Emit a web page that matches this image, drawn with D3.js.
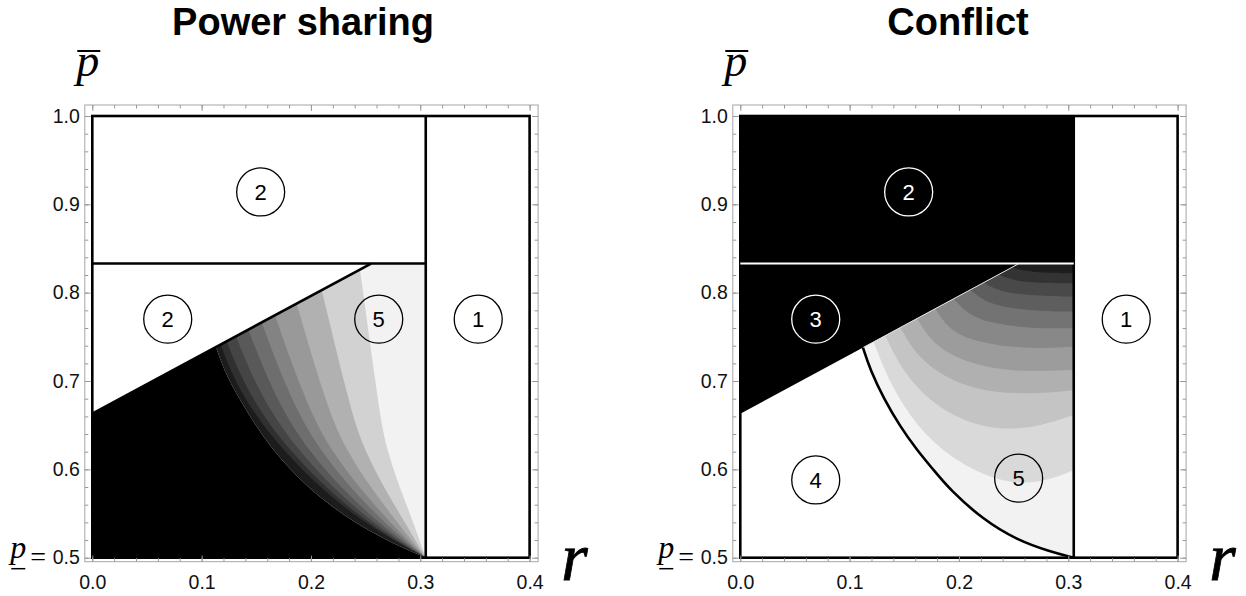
<!DOCTYPE html>
<html>
<head>
<meta charset="utf-8">
<script src="https://cdn.jsdelivr.net/npm/d3@7"></script>
<style>
  body { margin: 0; background: #fff; }
  svg { display: block; font-family: "Liberation Sans", Arial, sans-serif; }
</style>
</head>
<body>
<svg id="chart" width="1246" height="596"></svg>
<script>
// ---- data (r on x axis, p on y axis) ----
const xTicks = [0, 0.1, 0.2, 0.3, 0.4];
const yTicks = [0.5, 0.6, 0.7, 0.8, 0.9, 1.0];

const rSplit = 0.305;          // vertical boundary
const pSplit = 0.833;          // horizontal boundary
const diagStart = [0, 0.663];  // lower end of the slanted boundary
const diagEnd = [0.255, 0.833];

// Power sharing: edge of the black region 4
const psBlackEdge = [[0.1131, 0.7384], [0.1223, 0.7068], [0.1351, 0.6785], [0.1552, 0.6378],
  [0.1808, 0.5993], [0.2082, 0.5676], [0.2402, 0.5393], [0.2722, 0.5178], [0.305, 0.5]];
// Power sharing: contour lines, left (dark) to right (light)
const psContours = [
  [[0.1174, 0.7413], [0.133, 0.69], [0.1717, 0.622], [0.2371, 0.546], [0.305, 0.5]],
  [[0.1229, 0.7450], [0.1405, 0.69], [0.1777, 0.622], [0.2416, 0.546], [0.305, 0.5]],
  [[0.1314, 0.7506], [0.151, 0.69], [0.1857, 0.622], [0.2472, 0.546], [0.305, 0.5]],
  [[0.1427, 0.7582], [0.164, 0.69], [0.1947, 0.622], [0.2533, 0.546], [0.305, 0.5]],
  [[0.1549, 0.7663], [0.178, 0.69], [0.2057, 0.622], [0.2600, 0.546], [0.305, 0.5]],
  [[0.1671, 0.7745], [0.191, 0.69], [0.2157, 0.622], [0.2667, 0.546], [0.305, 0.5]],
  [[0.1869, 0.7877], [0.210, 0.69], [0.2297, 0.622], [0.2746, 0.546], [0.305, 0.5]],
  [[0.2098, 0.8029], [0.232, 0.69], [0.2467, 0.622], [0.2829, 0.546], [0.305, 0.5]],
  [[0.2448, 0.8263], [0.260, 0.69], [0.2677, 0.622], [0.2920, 0.546], [0.305, 0.5]]
];
const psFills = ['#1c1c1c', '#303030', '#454545', '#595959', '#6e6e6e', '#838383',
  '#999999', '#b1b1b1', '#d2d2d2', '#f2f2f2'];

// Conflict: boundary of region 5 (thick black curve)
const cfEdge = [[0.1122, 0.7378], [0.1189, 0.7125], [0.1311, 0.6804], [0.1463, 0.6483],
  [0.1616, 0.6219], [0.1768, 0.5993], [0.1920, 0.5766], [0.2225, 0.5427],
  [0.2530, 0.5200], [0.2835, 0.5068], [0.305, 0.5]];
// Conflict: contour lines, bottom (light) to top (dark)
const cfContours = [
  [[0.1219, 0.7443], [0.1372, 0.6954], [0.1616, 0.6481], [0.1920, 0.6131], [0.2286, 0.5897], [0.2591, 0.5830], [0.2835, 0.5885], [0.305, 0.5992]],
  [[0.1326, 0.7514], [0.1494, 0.7087], [0.1738, 0.6767], [0.2042, 0.6540], [0.2378, 0.6446], [0.2713, 0.6476], [0.305, 0.6615]],
  [[0.1463, 0.7606], [0.1616, 0.7276], [0.1859, 0.7049], [0.2164, 0.6898], [0.2530, 0.6853], [0.2835, 0.6868], [0.305, 0.6898]],
  [[0.1616, 0.7708], [0.1768, 0.7408], [0.2012, 0.7238], [0.2317, 0.7136], [0.2652, 0.7106], [0.305, 0.7125]],
  [[0.1783, 0.7819], [0.1920, 0.7559], [0.2164, 0.7445], [0.2469, 0.7381], [0.2774, 0.7370], [0.305, 0.7389]],
  [[0.1951, 0.7931], [0.2103, 0.7728], [0.2347, 0.7645], [0.2652, 0.7596], [0.305, 0.7596]],
  [[0.2103, 0.8033], [0.2256, 0.7879], [0.2500, 0.7819], [0.2774, 0.7789], [0.305, 0.7785]],
  [[0.2225, 0.8114], [0.2378, 0.8011], [0.2622, 0.7970], [0.305, 0.7955]],
  [[0.2362, 0.8205], [0.2500, 0.8136], [0.2743, 0.8110], [0.305, 0.8106]],
  [[0.2484, 0.8287], [0.2622, 0.8242], [0.2835, 0.8223], [0.305, 0.8219]]
];
const cfFills = ['#f2f2f2', '#d9d9d9', '#c4c4c4', '#b0b0b0', '#9c9c9c', '#888888',
  '#737373', '#5e5e5e', '#494949', '#333333', '#1e1e1e'];

const psLabels = [
  { n: '2', r: 0.154, p: 0.914 }, { n: '2', r: 0.069, p: 0.770 },
  { n: '5', r: 0.262, p: 0.770 }, { n: '1', r: 0.353, p: 0.770 },
  { n: '4', r: 0.069, p: 0.588 }
];
const cfLabels = [
  { n: '2', r: 0.154, p: 0.914, light: true }, { n: '3', r: 0.069, p: 0.770, light: true },
  { n: '1', r: 0.353, p: 0.770 }, { n: '4', r: 0.069, p: 0.588 },
  { n: '5', r: 0.2546, p: 0.590 }
];

const panels = [
  { title: 'Power sharing', titleX: 303, x0: 92.3, kind: 'ps', labels: psLabels },
  { title: 'Conflict', titleX: 958, x0: 740.3, kind: 'cf', labels: cfLabels }
];

const svg = d3.select('#chart');

panels.forEach(cfg => {
  const g = svg.append('g');
  const x = d3.scaleLinear().domain([0, 0.4]).range([cfg.x0, cfg.x0 + 437.3]);
  const y = d3.scaleLinear().domain([0.5, 1]).range([557.7, 116]);
  const curve = d3.line().x(d => x(d[0])).y(d => y(d[1])).curve(d3.curveBasis);
  const poly = d3.line().x(d => x(d[0])).y(d => y(d[1]));
  // closes a region along the right edge, the top split and the diagonal
  const tail = `L${x(rSplit)},${y(pSplit)}L${x(diagEnd[0])},${y(diagEnd[1])}Z`;

  if (cfg.kind === 'ps') {
    [psBlackEdge, ...psContours].forEach((c, i) => {
      g.append('path').attr('d', curve(c) + tail).attr('fill', psFills[i]);
    });
    // black region 4
    g.append('path')
      .attr('d', `M${x(0)},${y(0.5)}L${x(diagStart[0])},${y(diagStart[1])}` +
        curve(psBlackEdge).replace(/^M/, 'L') + 'Z')
      .attr('fill', '#000');
  } else {
    g.append('path').attr('d', curve(cfEdge) + tail).attr('fill', cfFills[0]);
    cfContours.forEach((c, i) => {
      g.append('path').attr('d', curve(c) + tail).attr('fill', cfFills[i + 1]);
    });
    // black regions 2 and 3
    g.append('path')
      .attr('d', poly([diagStart, [0, 1], [rSplit, 1], [rSplit, pSplit], diagEnd]) + 'Z')
      .attr('fill', '#000');
  }

  // boundaries
  const lw = 2.6;
  g.append('rect')
    .attr('x', x(0)).attr('y', y(1))
    .attr('width', x(0.4) - x(0)).attr('height', y(0.5) - y(1))
    .attr('fill', 'none').attr('stroke', '#000').attr('stroke-width', lw);
  g.append('path').attr('d', poly([[rSplit, 0.5], [rSplit, 1]]))
    .attr('stroke', '#000').attr('stroke-width', lw);
  if (cfg.kind === 'ps') {
    g.append('path').attr('d', poly([[0, pSplit], [rSplit, pSplit]]))
      .attr('stroke', '#000').attr('stroke-width', lw);
    g.append('path').attr('d', poly([diagStart, diagEnd]))
      .attr('stroke', '#000').attr('stroke-width', lw);
  } else {
    g.append('path').attr('d', poly([[0, pSplit], [rSplit, pSplit]]))
      .attr('stroke', '#fff').attr('stroke-width', 2);
    g.append('path').attr('d', poly([[cfEdge[0][0], cfEdge[0][1]], diagEnd]))
      .attr('stroke', '#e6e6e6').attr('stroke-width', 1);
    g.append('path').attr('d', curve(cfEdge))
      .attr('fill', 'none').attr('stroke', '#000').attr('stroke-width', lw);
  }

  // region labels
  const lab = g.selectAll('.lab').data(cfg.labels).enter().append('g')
    .attr('transform', d => `translate(${x(d.r)},${y(d.p)})`);
  lab.append('circle').attr('r', 24).attr('fill', 'none')
    .attr('stroke', d => d.light ? '#fff' : '#000').attr('stroke-width', 1.3);
  lab.append('text').attr('text-anchor', 'middle').attr('dy', '0.36em')
    .attr('font-size', 22).attr('fill', d => d.light ? '#fff' : '#000')
    .text(d => d.n);

  // frame with inward ticks
  const fL = x(0) - 7.5, fR = x(0.4) + 8.5, fT = y(1) - 11, fB = y(0.5) + 4;
  g.append('rect').attr('x', fL).attr('y', fT).attr('width', fR - fL).attr('height', fB - fT)
    .attr('fill', 'none').attr('stroke', '#a6a6a6').attr('stroke-width', 1);
  const xMinor = d3.range(0, 0.4001, 0.02);
  const yMinor = d3.range(0.5, 1.0001, 0.02);
  const fmt = d3.format('.1f');
  const axes = [
    g.append('g').attr('transform', `translate(0,${fB})`)
      .call(d3.axisBottom(x).tickValues(xMinor).tickSize(-3.5).tickFormat('')),
    g.append('g').attr('transform', `translate(0,${fB})`)
      .call(d3.axisBottom(x).tickValues(xTicks).tickSize(-6).tickPadding(13).tickFormat(fmt)),
    g.append('g').attr('transform', `translate(0,${fT})`)
      .call(d3.axisTop(x).tickValues(xMinor).tickSize(-3.5).tickFormat('')),
    g.append('g').attr('transform', `translate(0,${fT})`)
      .call(d3.axisTop(x).tickValues(xTicks).tickSize(-6).tickFormat('')),
    g.append('g').attr('transform', `translate(${fL},0)`)
      .call(d3.axisLeft(y).tickValues(yMinor).tickSize(-3.5).tickFormat('')),
    g.append('g').attr('transform', `translate(${fL},0)`)
      .call(d3.axisLeft(y).tickValues(yTicks).tickSize(-6).tickPadding(5).tickFormat(fmt)),
    g.append('g').attr('transform', `translate(${fR},0)`)
      .call(d3.axisRight(y).tickValues(yMinor).tickSize(-3.5).tickFormat('')),
    g.append('g').attr('transform', `translate(${fR},0)`)
      .call(d3.axisRight(y).tickValues(yTicks).tickSize(-6).tickFormat(''))
  ];
  axes.forEach(a => {
    a.select('.domain').remove();
    a.selectAll('.tick line').attr('stroke', '#999');
    a.selectAll('.tick text').attr('fill', '#111').attr('font-size', 19.5)
      .attr('font-family', '"Liberation Sans", Arial, sans-serif');
  });

  // titles and axis symbols
  svg.append('text').attr('x', cfg.titleX).attr('y', 35).attr('text-anchor', 'middle')
    .attr('font-size', 38).attr('font-weight', 'bold').text(cfg.title);

  const serif = '"Liberation Serif", "DejaVu Serif", serif';
  svg.append('text').attr('x', x(0) - 16).attr('y', 76).attr('font-family', serif)
    .attr('font-style', 'italic').attr('font-size', 46).text('p');
  svg.append('line').attr('x1', x(0) - 15).attr('x2', x(0) + 8).attr('y1', 51).attr('y2', 51)
    .attr('stroke', '#000').attr('stroke-width', 2);

  svg.append('text').attr('x', x(0.4) + 45).attr('y', 580).attr('text-anchor', 'middle')
    .attr('font-family', serif).attr('font-style', 'italic').attr('font-size', 68)
    .attr('stroke', '#000').attr('stroke-width', 0.8).text('r');

  svg.append('text').attr('x', x(0) - 82).attr('y', y(0.5)).attr('font-family', serif)
    .attr('font-style', 'italic').attr('font-size', 32).text('p');
  svg.append('line').attr('x1', x(0) - 81).attr('x2', x(0) - 67)
    .attr('y1', y(0.5) + 11).attr('y2', y(0.5) + 11)
    .attr('stroke', '#000').attr('stroke-width', 1.5);
  svg.append('text').attr('x', x(0) - 62).attr('y', y(0.5) + 8).attr('font-family', serif)
    .attr('font-size', 28).text('=');
});
</script>
</body>
</html>
